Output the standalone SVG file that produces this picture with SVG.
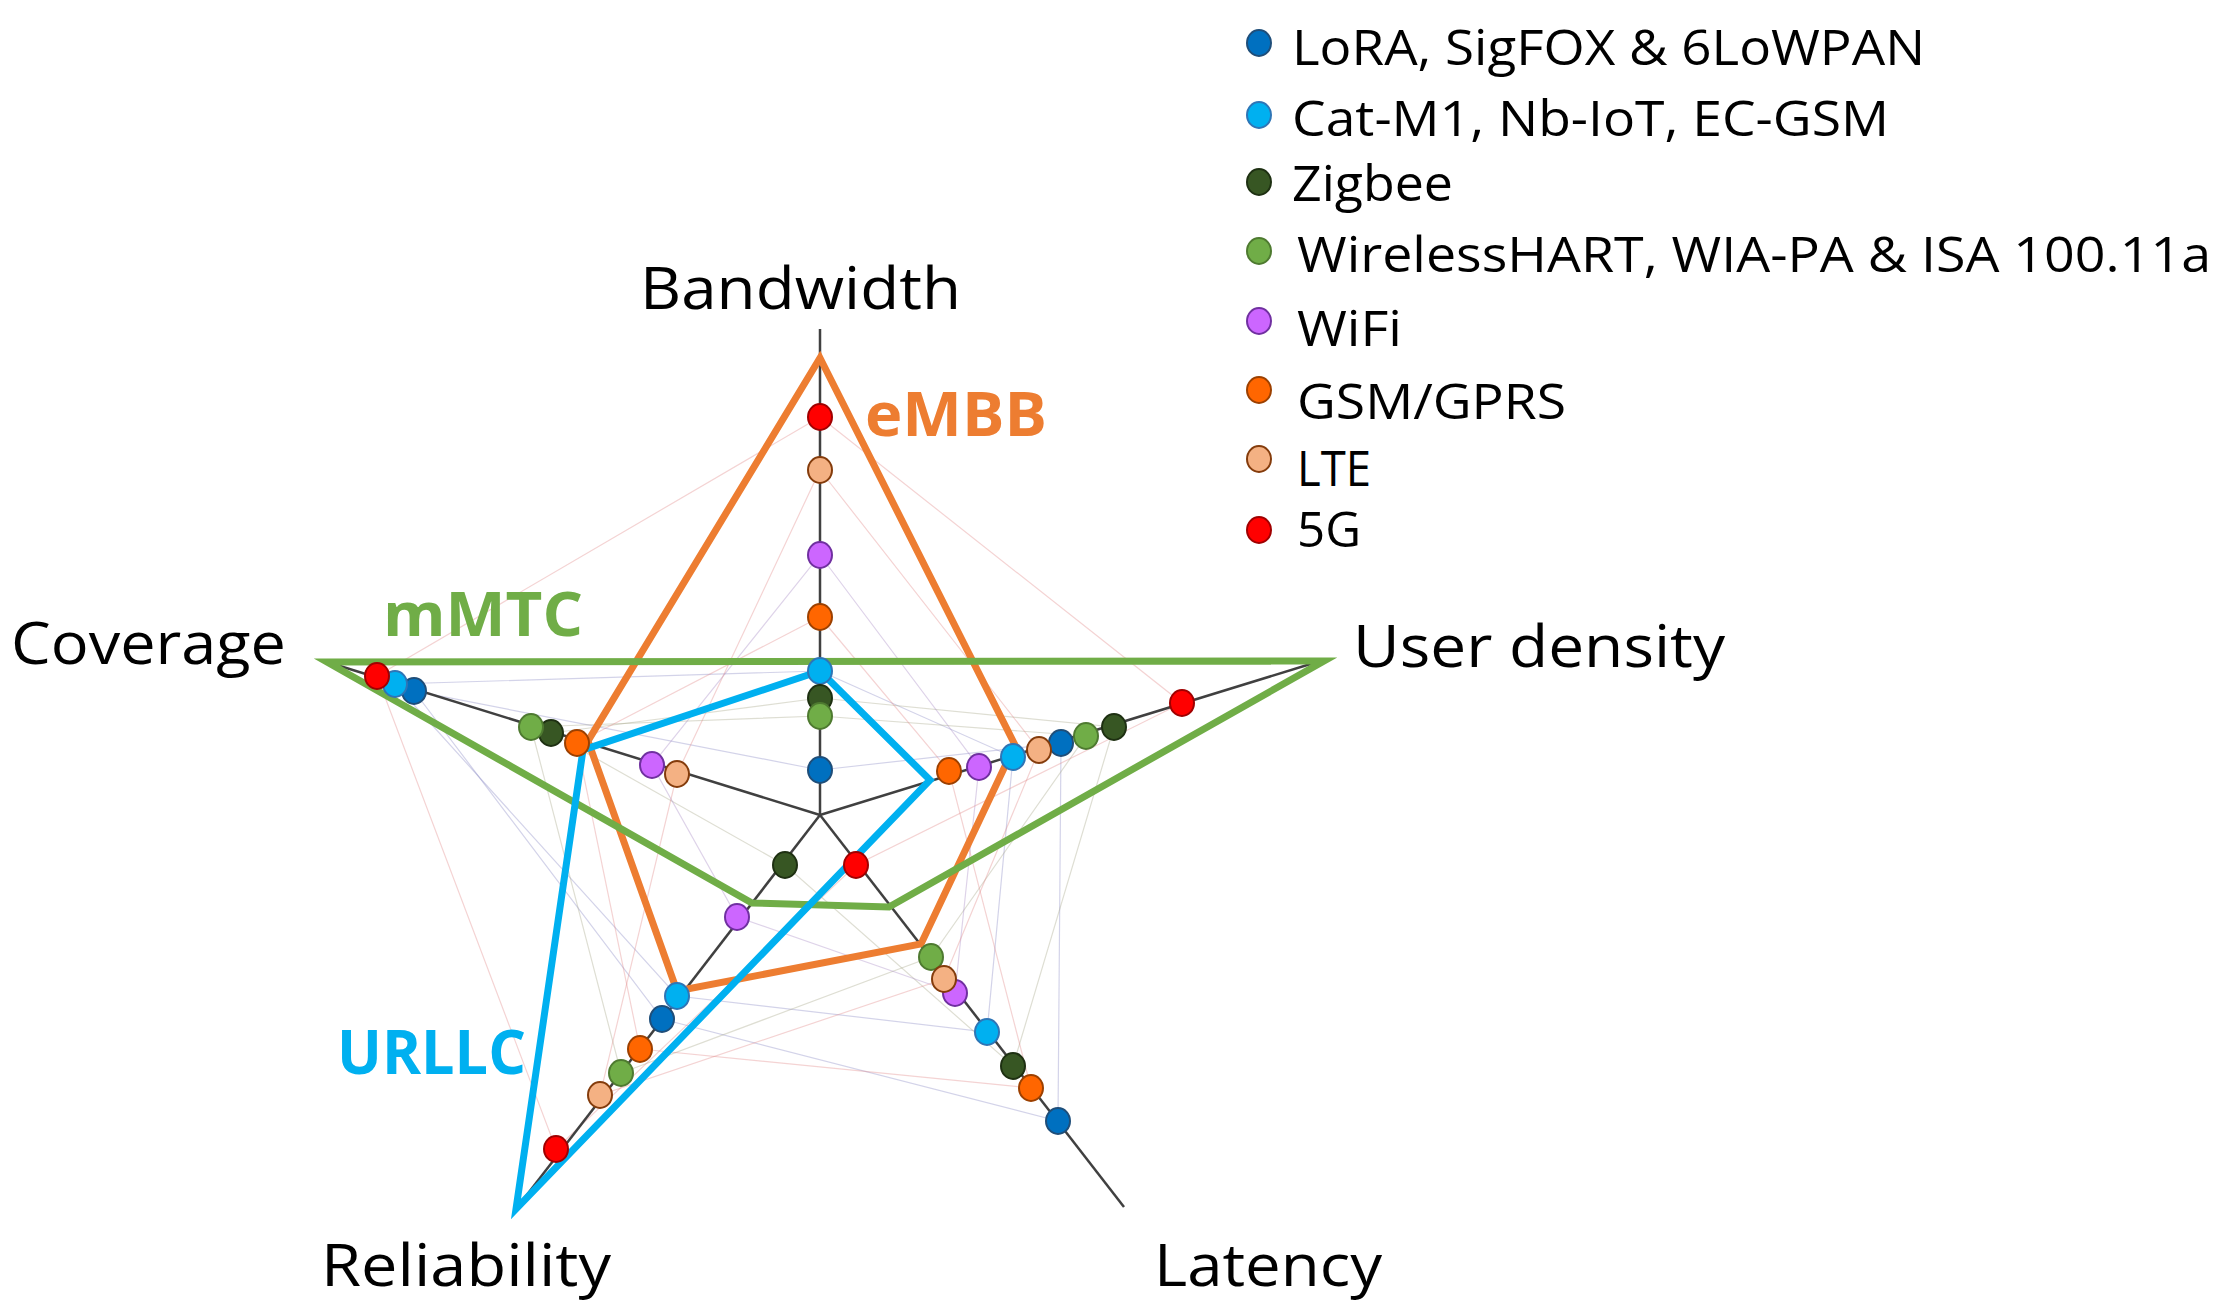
<svg xmlns="http://www.w3.org/2000/svg" width="2229" height="1302" viewBox="0 0 2229 1302">
<style>
.ax{stroke:#404040;stroke-width:2.5;fill:none}
.fl{fill:none;stroke-width:1.2;opacity:0.35}
.pg{fill:none;stroke-width:7;stroke-linejoin:miter}
.lab{font-family:"Open Sans","Liberation Sans",sans-serif;font-size:58px;fill:#000}
.lg{font-family:"Open Sans","Liberation Sans",sans-serif;font-size:50px;fill:#000}
.big{font-family:"Open Sans","Liberation Sans",sans-serif;font-size:60px;font-weight:bold}
.d{stroke-width:2}
.lora{fill:#0070C0;stroke:#1F4E79}.catm{fill:#00B0F0;stroke:#2E75B6}.zig{fill:#375623;stroke:#1E3012}
.wh{fill:#70AD47;stroke:#4E7A30}.wifi{fill:#CC66FF;stroke:#7030A0}.gsm{fill:#FF6600;stroke:#9C4000}
.lte{fill:#F4B183;stroke:#843C0C}.g5{fill:#FF0000;stroke:#A00000}
</style>
<g id="faint">
<polygon class="fl" stroke="#8080C0" points="820,770 1061,743 1058,1121 662,1019 414,691"/>
<polygon class="fl" stroke="#8080C0" points="820,671 1013,757 987,1032 677,996 395,684"/>
<polygon class="fl" stroke="#A0A080" points="820,698 1114,727 1013,1066 785,865 551,733"/>
<polygon class="fl" stroke="#A0A080" points="820,716 1086,736 931,957 621,1073 531,727"/>
<polygon class="fl" stroke="#A080C0" points="820,555 979,767 955,993 737,917 652,765"/>
<polygon class="fl" stroke="#E08080" points="820,617 949,771 1031,1088 640,1049 577,743"/>
<polygon class="fl" stroke="#E08080" points="820,470 1039,750 944,979 600,1095 677,774"/>
<polygon class="fl" stroke="#E08080" points="820,417 1182,703 856,865 556,1149 377,676"/>
</g>
<g id="axes">
<line class="ax" x1="820" y1="815" x2="820" y2="329"/>
<line class="ax" x1="820" y1="815" x2="1317" y2="662"/>
<line class="ax" x1="820" y1="815" x2="1124" y2="1207"/>
<line class="ax" x1="820" y1="815" x2="516" y2="1209"/>
<line class="ax" x1="820" y1="815" x2="327" y2="662"/>
</g>
<g id="connectors">
<polygon class="pg" stroke="#ED7D31" points="820,358 1015,745 921,944 677,991 588,741"/>
<polygon class="pg" stroke="#70AD47" points="327,662 1324,661 889,907 752,903"/>
<polygon class="pg" stroke="#00B0F0" points="820,671 930,780 516,1209 583,750"/>
</g>
<g id="dots">
<g class="d lora"><ellipse cx="820" cy="770" rx="12" ry="13"/><ellipse cx="1061" cy="743" rx="12" ry="13"/><ellipse cx="1058" cy="1121" rx="12" ry="13"/><ellipse cx="662" cy="1019" rx="12" ry="13"/><ellipse cx="414" cy="691" rx="12" ry="13"/></g>
<g class="d catm"><ellipse cx="820" cy="671" rx="12" ry="13"/><ellipse cx="1013" cy="757" rx="12" ry="13"/><ellipse cx="987" cy="1032" rx="12" ry="13"/><ellipse cx="677" cy="996" rx="12" ry="13"/><ellipse cx="395" cy="684" rx="12" ry="13"/></g>
<g class="d zig"><ellipse cx="820" cy="698" rx="12" ry="13"/><ellipse cx="1114" cy="727" rx="12" ry="13"/><ellipse cx="1013" cy="1066" rx="12" ry="13"/><ellipse cx="785" cy="865" rx="12" ry="13"/><ellipse cx="551" cy="733" rx="12" ry="13"/></g>
<g class="d wh"><ellipse cx="820" cy="716" rx="12" ry="13"/><ellipse cx="1086" cy="736" rx="12" ry="13"/><ellipse cx="931" cy="957" rx="12" ry="13"/><ellipse cx="621" cy="1073" rx="12" ry="13"/><ellipse cx="531" cy="727" rx="12" ry="13"/></g>
<g class="d wifi"><ellipse cx="820" cy="555" rx="12" ry="13"/><ellipse cx="979" cy="767" rx="12" ry="13"/><ellipse cx="955" cy="993" rx="12" ry="13"/><ellipse cx="737" cy="917" rx="12" ry="13"/><ellipse cx="652" cy="765" rx="12" ry="13"/></g>
<g class="d gsm"><ellipse cx="820" cy="617" rx="12" ry="13"/><ellipse cx="949" cy="771" rx="12" ry="13"/><ellipse cx="1031" cy="1088" rx="12" ry="13"/><ellipse cx="640" cy="1049" rx="12" ry="13"/><ellipse cx="577" cy="743" rx="12" ry="13"/></g>
<g class="d lte"><ellipse cx="820" cy="470" rx="12" ry="13"/><ellipse cx="1039" cy="750" rx="12" ry="13"/><ellipse cx="944" cy="979" rx="12" ry="13"/><ellipse cx="600" cy="1095" rx="12" ry="13"/><ellipse cx="677" cy="774" rx="12" ry="13"/></g>
<g class="d g5"><ellipse cx="820" cy="417" rx="12" ry="13"/><ellipse cx="1182" cy="703" rx="12" ry="13"/><ellipse cx="856" cy="865" rx="12" ry="13"/><ellipse cx="556" cy="1149" rx="12" ry="13"/><ellipse cx="377" cy="676" rx="12" ry="13"/></g>
</g>
<g id="axis-labels">
<text class="lab" x="640" y="309" font-size="56" textLength="321" lengthAdjust="spacingAndGlyphs">Bandwidth</text>
<text class="lab" x="11" y="664" textLength="275" lengthAdjust="spacingAndGlyphs">Coverage</text>
<text class="lab" x="1353" y="667" textLength="372" lengthAdjust="spacingAndGlyphs">User density</text>
<text class="lab" x="321" y="1286" textLength="290" lengthAdjust="spacingAndGlyphs">Reliability</text>
<text class="lab" x="1154" y="1286" textLength="228" lengthAdjust="spacingAndGlyphs">Latency</text>
</g>
<g id="class-labels">
<text class="big" fill="#ED7D31" x="865" y="436" font-size="56" textLength="182" lengthAdjust="spacingAndGlyphs">eMBB</text>
<text class="big" fill="#70AD47" x="383" y="636" textLength="200" lengthAdjust="spacingAndGlyphs">mMTC</text>
<text class="big" fill="#00B0F0" x="337" y="1074" textLength="189" lengthAdjust="spacingAndGlyphs">URLLC</text>
</g>
<g id="legend">
<g class="d"><ellipse class="lora" cx="1259" cy="43" rx="12" ry="13"/><ellipse class="catm" cx="1259" cy="115" rx="12" ry="13"/><ellipse class="zig" cx="1259" cy="182" rx="12" ry="13"/><ellipse class="wh" cx="1259" cy="251" rx="12" ry="13"/><ellipse class="wifi" cx="1259" cy="321" rx="12" ry="13"/><ellipse class="gsm" cx="1259" cy="390" rx="12" ry="13"/><ellipse class="lte" cx="1259" cy="459" rx="12" ry="13"/><ellipse class="g5" cx="1259" cy="530" rx="12" ry="13"/></g>
<text class="lg" x="1292" y="65" textLength="633" lengthAdjust="spacingAndGlyphs">LoRA, SigFOX &amp; 6LoWPAN</text>
<text class="lg" x="1292" y="136" textLength="597" lengthAdjust="spacingAndGlyphs">Cat-M1, Nb-IoT, EC-GSM</text>
<text class="lg" x="1292" y="201" textLength="161" lengthAdjust="spacingAndGlyphs">Zigbee</text>
<text class="lg" x="1297" y="272" textLength="914" lengthAdjust="spacingAndGlyphs">WirelessHART, WIA-PA &amp; ISA 100.11a</text>
<text class="lg" x="1297" y="346" textLength="105" lengthAdjust="spacingAndGlyphs">WiFi</text>
<text class="lg" x="1297" y="419" textLength="269" lengthAdjust="spacingAndGlyphs">GSM/GPRS</text>
<text class="lg" x="1297" y="486" textLength="74" lengthAdjust="spacingAndGlyphs">LTE</text>
<text class="lg" x="1297" y="547" textLength="64" lengthAdjust="spacingAndGlyphs">5G</text>
</g>
</svg>
